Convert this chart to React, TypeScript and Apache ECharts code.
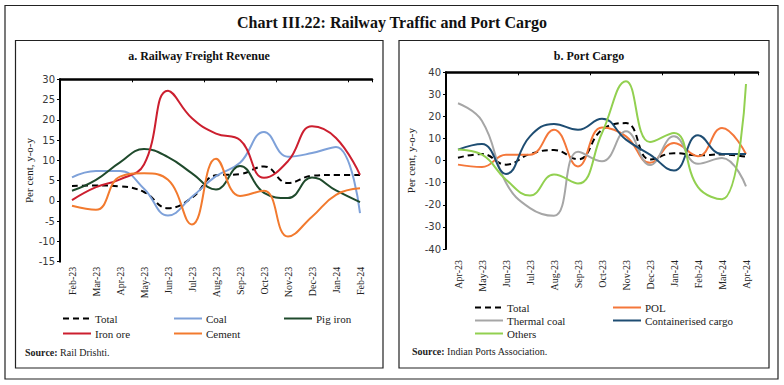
import React, { useEffect, useRef } from 'react';
import * as echarts from 'echarts';

// ---------- Data ----------
const railMonths = ['Feb-23', 'Mar-23', 'Apr-23', 'May-23', 'Jun-23', 'Jul-23', 'Aug-23', 'Sep-23', 'Oct-23', 'Nov-23', 'Dec-23', 'Jan-24', 'Feb-24'];
const railTotal = [3.7, 3.8, 3.6, 2.2, -1.8, 0.8, 6.3, 6.6, 8.5, 4.4, 6.2, 6.4, 6.4];
const railCoal = [5.8, 7.4, 7.4, 3.0, -3.6, 1.0, 6.1, 9.4, 17.0, 10.9, 11.8, 13.3, -3.0];
const railPigIron = [2.5, 5.2, 9.5, 12.8, 10.8, 6.8, 2.8, 8.6, 2.0, 0.7, 5.8, 2.6, -0.3];
const railIronOre = [0.2, 3.4, 5.3, 9.0, 27.2, 20.4, 16.6, 15.0, 5.7, 9.8, 18.4, 15.5, 6.4];
const railCement = [-1.2, -2.2, 6.0, 6.8, 5.2, -5.8, 10.4, 1.2, 2.5, -8.8, -3.9, 1.5, 3.1];
const railYMin = -15;
const railYMax = 30;
const railYStep = 5;

const portMonths = ['Apr-23', 'May-23', 'Jun-23', 'Jul-23', 'Aug-23', 'Sep-23', 'Oct-23', 'Nov-23', 'Dec-23', 'Jan-24', 'Feb-24', 'Mar-24', 'Apr-24'];
const portTotal = [1.3, 3.0, -1.8, 3.0, 4.8, 0.6, 14.0, 17.0, 0.5, 3.4, 2.4, 2.8, 1.8];
const portPOL = [-1.8, -2.9, 2.7, 2.7, 14.0, -2.6, 15.0, 11.0, -1.0, 8.0, 2.0, 14.8, 3.0];
const portThermal = [26.0, 18.0, -10.0, -21.5, -25.0, 4.0, -0.3, 13.3, -2.0, 11.0, -1.4, 1.2, -11.6];
const portContainer = [5.0, 7.5, -6.0, 11.0, 16.6, 14.0, 19.0, 9.5, 2.7, -4.5, 11.5, 3.0, 3.0];
const portOthers = [5.0, 2.7, -8.6, -15.8, -6.3, -10.4, 12.5, 36.0, 8.4, 12.5, -12.0, -17.5, 34.7];
const portYMin = -40;
const portYMax = 40;
const portYStep = 10;

// ---------- Styles ----------
const SERIF = 'Liberation Serif';
const SANS = 'DejaVu Sans';
const TXT = '#222';

const C_TOTAL = '#000000';
const C_COAL = '#7EA1D9';
const C_PIG = '#1F4A2C';
const C_IRON = '#CC1F2F';
const C_CEMENT = '#F27A2E';
const C_POL = '#F4773A';
const C_THERMAL = '#A6A6A6';
const C_CONT = '#1E4D72';
const C_OTHERS = '#92D050';

function lineSeries(name: string, data: number[], color: string, side: number, dashed = false) {
  return {
    type: 'line',
    name,
    data,
    xAxisIndex: side * 2,
    yAxisIndex: side,
    smooth: 0.45,
    symbol: 'none',
    lineStyle: { color, width: 2, type: dashed ? [6, 4] : 'solid' },
    itemStyle: { color },
  };
}

function legendItem(name: string, left: number, rowY: number) {
  return {
    data: [name],
    left,
    top: rowY - 7,
    padding: 0,
    itemWidth: 28,
    itemHeight: 12,
    itemGap: 0,
    selectedMode: false,
    itemStyle: { opacity: 0, borderWidth: 0 },
    textStyle: { fontFamily: SERIF, fontSize: 11, color: TXT, padding: [0, 0, 0, -1] },
  };
}

function xLabelAxis(gridIndex: number, data: string[], margin: number) {
  return {
    type: 'category',
    gridIndex,
    data,
    position: 'bottom',
    boundaryGap: true,
    axisLine: { show: false },
    axisTick: { show: false },
    axisLabel: { rotate: 90, margin, fontFamily: SERIF, fontSize: 10, color: TXT, interval: 0 },
    splitLine: { show: false },
  };
}

function xZeroAxis(gridIndex: number, data: string[]) {
  return {
    type: 'category',
    gridIndex,
    data,
    position: 'top',
    boundaryGap: true,
    axisLine: { show: true, onZero: true, lineStyle: { color: '#000', width: 2.5 } },
    axisTick: { show: true, inside: true, length: 3, lineStyle: { color: '#000', width: 1 } },
    axisLabel: { show: false },
    splitLine: { show: false },
  };
}

function yAxis(gridIndex: number, min: number, max: number, interval: number, nameGap: number, name: string) {
  return {
    type: 'value',
    gridIndex,
    min,
    max,
    interval,
    name,
    nameLocation: 'middle',
    nameGap,
    nameTextStyle: { fontFamily: SERIF, fontSize: 11, color: TXT },
    axisLine: { show: true, onZero: false, lineStyle: { color: '#000', width: 2 } },
    axisTick: { show: true, length: 3, lineStyle: { color: '#000', width: 1 } },
    axisLabel: { fontFamily: SANS, fontSize: 10, color: '#3a3a3a', margin: 5 },
    splitLine: { show: false },
  };
}

export default function App() {
  const ref = useRef<HTMLDivElement>(null);

  useEffect(() => {
    const chart = echarts.init(ref.current!, null, { renderer: 'svg' });
    const option = {
      animation: false,
      backgroundColor: '#ffffff',
      grid: [
        { left: 60, top: 79.3, width: 312, height: 182.4 },
        { left: 446, top: 72.3, width: 312, height: 176.7 },
      ],
      xAxis: [
        xLabelAxis(0, railMonths, 5),
        xZeroAxis(0, railMonths),
        xLabelAxis(1, portMonths, 11),
        xZeroAxis(1, portMonths),
      ],
      yAxis: [
        yAxis(0, railYMin, railYMax, railYStep, 26, 'Per cent, y-o-y'),
        yAxis(1, portYMin, portYMax, portYStep, 30, 'Per cent, y-o-y'),
      ],
      legend: [
        legendItem('Total', 62, 320),
        legendItem('Coal', 173, 320),
        legendItem('Pig iron', 283, 320),
        legendItem('Iron ore', 62, 335),
        legendItem('Cement', 173, 335),
        legendItem('Total ', 474, 309),
        legendItem('POL', 612, 309),
        legendItem('Thermal coal', 474, 322),
        legendItem('Containerised cargo', 612, 322),
        legendItem('Others', 474, 335),
      ],
      series: [
        lineSeries('Total', railTotal, C_TOTAL, 0, true),
        lineSeries('Coal', railCoal, C_COAL, 0),
        lineSeries('Pig iron', railPigIron, C_PIG, 0),
        lineSeries('Iron ore', railIronOre, C_IRON, 0),
        lineSeries('Cement', railCement, C_CEMENT, 0),
        lineSeries('Total ', portTotal, C_TOTAL, 1, true),
        lineSeries('POL', portPOL, C_POL, 1),
        lineSeries('Thermal coal', portThermal, C_THERMAL, 1),
        lineSeries('Containerised cargo', portContainer, C_CONT, 1),
        lineSeries('Others', portOthers, C_OTHERS, 1),
      ],
      graphic: [
        { type: 'rect', shape: { x: 5, y: 5.5, width: 773, height: 373.5 }, style: { fill: 'none', stroke: '#222', lineWidth: 1.2 }, silent: true },
        { type: 'rect', shape: { x: 15.5, y: 40.5, width: 367.5, height: 327.5 }, style: { fill: 'none', stroke: '#222', lineWidth: 1.2 }, silent: true },
        { type: 'rect', shape: { x: 399, y: 40.5, width: 370, height: 327.5 }, style: { fill: 'none', stroke: '#222', lineWidth: 1.2 }, silent: true },
        {
          type: 'text', x: 392, y: 22, silent: true,
          style: { text: 'Chart III.22: Railway Traffic and Port Cargo', fontFamily: SERIF, fontSize: 16, fontWeight: 'bold', fill: '#111', align: 'center', verticalAlign: 'middle' },
        },
        {
          type: 'text', x: 199, y: 55.5, silent: true,
          style: { text: 'a. Railway Freight Revenue', fontFamily: SERIF, fontSize: 12, fontWeight: 'bold', fill: '#111', align: 'center', verticalAlign: 'middle' },
        },
        {
          type: 'text', x: 589, y: 55.5, silent: true,
          style: { text: 'b. Port Cargo', fontFamily: SERIF, fontSize: 12, fontWeight: 'bold', fill: '#111', align: 'center', verticalAlign: 'middle' },
        },
        {
          type: 'text', x: 25, y: 352, silent: true,
          style: {
            text: '{b|Source:} Rail Drishti.',
            fontFamily: SERIF, fontSize: 10, fill: TXT, verticalAlign: 'middle',
            rich: { b: { fontFamily: SERIF, fontSize: 10, fontWeight: 'bold', fill: TXT } },
          },
        },
        {
          type: 'text', x: 412, y: 351, silent: true,
          style: {
            text: '{b|Source:} Indian Ports Association.',
            fontFamily: SERIF, fontSize: 10, fill: TXT, verticalAlign: 'middle',
            rich: { b: { fontFamily: SERIF, fontSize: 10, fontWeight: 'bold', fill: TXT } },
          },
        },
      ],
    };
    chart.setOption(option as any);
    return () => chart.dispose();
  }, []);

  return (
    <div
      ref={ref}
      style={{ position: 'absolute', left: 0, top: 0, width: 784, height: 385, background: '#fff' }}
    />
  );
}
